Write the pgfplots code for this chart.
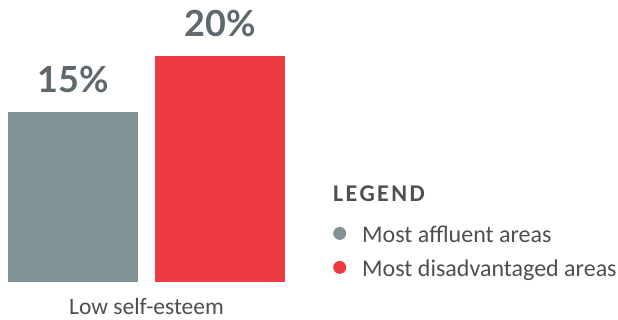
\documentclass[border=0pt]{standalone}
\usepackage{fontspec}
\setmainfont{Carlito}
\newfontfamily\numfont{Lato}
\newfontfamily\legfont{Carlito}[LetterSpace=10]
\usepackage{pgfplots}
\pgfplotsset{compat=1.18}
\definecolor{affl}{HTML}{829396}
\definecolor{disadv}{HTML}{EE3A43}
\definecolor{txt}{HTML}{4D4F51}
\definecolor{numc}{HTML}{5E686D}
\begin{document}
\begin{tikzpicture}
\useasboundingbox (0,0) rectangle (618pt,320pt);
\begin{axis}[
  at={(8pt,38pt)}, anchor=south west,
  scale only axis, width=277pt, height=282.5pt,
  xmin=-0.442, xmax=1.442, ymin=0, ymax=25,
  hide axis,
  ybar, bar width=130pt, bar shift=0pt,
  nodes near coords={\pgfmathprintnumber[assume math mode=true]{\pgfplotspointmeta}\%},
  nodes near coords style={font=\numfont\bfseries\fontsize{36}{36}\selectfont, text=numc, anchor=south, inner sep=0pt, yshift=19pt},
  legend image code/.code={\fill[#1, draw=none] (0pt,0.33em) circle (6.5pt); \path (22.5pt,0.33em);},
  legend style={draw=none, fill=none, at={(rel axis cs:1.1733,0.2018)}, anchor=north west, inner sep=0pt,
    font=\fontsize{24}{24}\selectfont, text=txt,
    nodes={inner sep=0pt, text depth=6pt, text height=17pt},
    row sep=11pt},
  legend cell align=left,
]
\addplot[fill=affl, draw=none] coordinates {(0,15)};
\addlegendentry{Most affluent areas}
\addplot[fill=disadv, draw=none] coordinates {(1,20)};
\addlegendentry{Most disadvantaged areas}
\end{axis}
\node[anchor=base west, inner sep=0pt, font=\legfont\bfseries\fontsize{24}{24}\selectfont, text=txt] at (333pt,118pt) {LEGEND};
\node[anchor=base, inner sep=0pt, font=\fontsize{23.5}{23.5}\selectfont, text=txt] at (146.5pt,5pt) {Low self-esteem};
\end{tikzpicture}
\end{document}
